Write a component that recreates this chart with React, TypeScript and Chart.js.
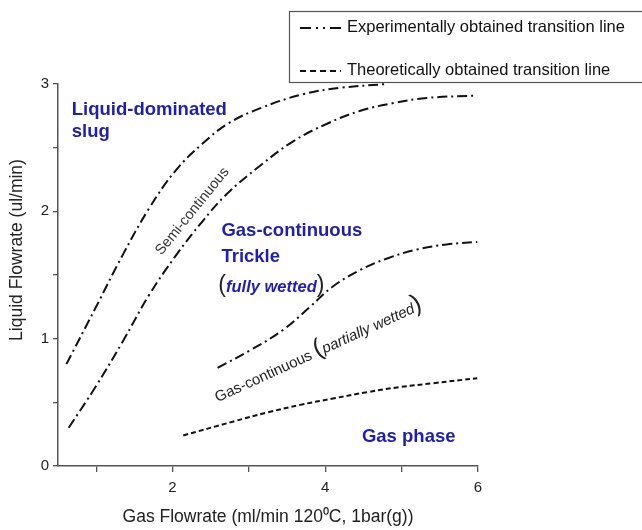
import React, { useEffect, useRef } from 'react';
import { Chart, registerables } from 'chart.js';

Chart.register(...registerables);

// ---- data ----
const expUpperX = [0.61, 0.99, 1.35, 1.69, 2.04, 2.39, 2.73, 3.15, 3.71, 4.2, 4.8];
const expUpperY = [0.8, 1.24, 1.66, 2.02, 2.32, 2.53, 2.69, 2.81, 2.92, 2.97, 3.0];

const expLowerX = [0.64, 0.99, 1.35, 1.69, 2.04, 2.39, 2.7, 3.15, 3.58, 4.03, 4.46, 4.89, 5.33, 5.99];
const expLowerY = [0.3, 0.62, 0.98, 1.34, 1.65, 1.92, 2.13, 2.36, 2.55, 2.69, 2.79, 2.85, 2.89, 2.91];

const expMidX = [2.59, 3.02, 3.45, 3.8, 4.1, 4.46, 4.81, 5.2, 5.59, 5.99];
const expMidY = [0.77, 0.91, 1.07, 1.25, 1.41, 1.54, 1.63, 1.7, 1.74, 1.76];

const theoX = [2.14, 2.8, 3.24, 3.67, 4.1, 4.55, 4.98, 5.41, 5.99];
const theoY = [0.24, 0.35, 0.42, 0.48, 0.53, 0.58, 0.62, 0.65, 0.69];

const xMajorLabels = [2, 4, 6];
const yMajorLabels = [0, 1, 2, 3];

const legendLabels = ['Experimentally obtained transition line', 'Theoretically obtained transition line'];
const xTitle = 'Gas Flowrate (ml/min 120\u2070C, 1bar(g))';
const yTitle = 'Liquid Flowrate (ul/min)';

const FONT = '"Liberation Sans", Arial, sans-serif';
const BLUE = '#1e1eb4';
const DASHDOT = [10, 4, 2, 4];
const DASHED = [5, 3];

const toPts = (xs: number[], ys: number[]) => xs.map((x, i) => ({ x, y: ys[i] }));

type Run = { text: string; font: string; color: string };

function drawRuns(ctx: CanvasRenderingContext2D, x: number, y: number, angleDeg: number, runs: Run[]) {
  ctx.save();
  ctx.translate(x, y);
  ctx.rotate((angleDeg * Math.PI) / 180);
  ctx.textAlign = 'left';
  ctx.textBaseline = 'alphabetic';
  let cx = 0;
  for (const r of runs) {
    ctx.font = r.font;
    ctx.fillStyle = r.color;
    ctx.fillText(r.text, cx, 0);
    cx += ctx.measureText(r.text).width;
  }
  ctx.restore();
}

const overlay = {
  id: 'overlay',
  afterDraw(chart: any) {
    const ctx: CanvasRenderingContext2D = chart.ctx;
    const xs = chart.scales.x;
    const ys = chart.scales.y;
    const px = (v: number) => xs.getPixelForValue(v);
    const py = (v: number) => ys.getPixelForValue(v);
    const bold = `bold 18.5px ${FONT}`;

    // region labels (anchored in data coordinates)
    drawRuns(ctx, px(0.68), py(2.76), 0, [{ text: 'Liquid-dominated', font: bold, color: BLUE }]);
    drawRuns(ctx, px(0.68), py(2.58), 0, [{ text: 'slug', font: bold, color: BLUE }]);

    drawRuns(ctx, px(2.64), py(1.81), 0, [{ text: 'Gas-continuous', font: bold, color: BLUE }]);
    drawRuns(ctx, px(2.64), py(1.6), 0, [{ text: 'Trickle', font: bold, color: BLUE }]);
    drawRuns(ctx, px(2.6), py(1.37), 0, [
      { text: '(', font: `23px ${FONT}`, color: '#222' },
      { text: 'fully wetted', font: `italic bold 16.5px ${FONT}`, color: BLUE },
      { text: ')', font: `23px ${FONT}`, color: '#222' },
    ]);

    drawRuns(ctx, px(4.48), py(0.19), 0, [{ text: 'Gas phase', font: bold, color: BLUE }]);

    // Semi-continuous (rotated)
    ctx.save();
    ctx.translate(px(2.26), py(2.0));
    ctx.rotate((-51 * Math.PI) / 180);
    ctx.font = `14.5px ${FONT}`;
    ctx.fillStyle = '#333';
    ctx.textAlign = 'center';
    ctx.textBaseline = 'middle';
    ctx.fillText('Semi-continuous', 0, 0);
    ctx.restore();

    drawRuns(ctx, px(2.59), py(0.5), -24.5, [
      { text: 'Gas-continuous ', font: `15px ${FONT}`, color: '#222' },
      { text: '(', font: `25px ${FONT}`, color: '#222' },
      { text: 'partially wetted', font: `italic 15px ${FONT}`, color: '#222' },
      { text: ')', font: `25px ${FONT}`, color: '#222' },
    ]);

    // axis titles
    ctx.save();
    ctx.fillStyle = '#222';
    ctx.font = `17.5px ${FONT}`;
    ctx.textAlign = 'center';
    ctx.textBaseline = 'middle';
    ctx.fillText(xTitle, (chart.chartArea.left + chart.chartArea.right) / 2, 517);
    ctx.translate(17, 250);
    ctx.rotate(-Math.PI / 2);
    ctx.fillText(yTitle, 0, 0);
    ctx.restore();

    // legend box
    ctx.save();
    ctx.fillStyle = '#fff';
    ctx.strokeStyle = '#555';
    ctx.lineWidth = 1.2;
    ctx.fillRect(289, 11, 360, 71);
    ctx.strokeRect(289.5, 11.5, 360, 71);
    ctx.strokeStyle = '#111';
    ctx.lineWidth = 2;
    ctx.setLineDash([11, 5, 2, 5, 2, 5, 11]);
    ctx.beginPath();
    ctx.moveTo(300, 28);
    ctx.lineTo(342, 28);
    ctx.stroke();
    ctx.setLineDash([6, 4]);
    ctx.beginPath();
    ctx.moveTo(300, 71);
    ctx.lineTo(341, 71);
    ctx.stroke();
    ctx.setLineDash([]);
    ctx.fillStyle = '#111';
    ctx.font = `16.5px ${FONT}`;
    ctx.textAlign = 'left';
    ctx.textBaseline = 'middle';
    ctx.fillText(legendLabels[0], 347, 27);
    ctx.fillText(legendLabels[1], 347, 70);
    ctx.restore();
  },
};

export default function App() {
  const ref = useRef<HTMLCanvasElement>(null);

  useEffect(() => {
    document.body.style.margin = '0';
    const canvas = ref.current!;
    const lineDs = (label: string, xs: number[], ys: number[], dash: number[]) => ({
      label,
      data: toPts(xs, ys),
      showLine: true,
      borderColor: '#111',
      backgroundColor: '#111',
      borderWidth: 2,
      borderDash: dash,
      pointRadius: 0,
      tension: 0.4,
      fill: false,
      clip: false as any,
    });

    const chart = new Chart(canvas, {
      type: 'scatter',
      data: {
        datasets: [
          lineDs(legendLabels[0], expUpperX, expUpperY, DASHDOT),
          lineDs(legendLabels[0], expLowerX, expLowerY, DASHDOT),
          lineDs(legendLabels[0], expMidX, expMidY, DASHDOT),
          lineDs(legendLabels[1], theoX, theoY, DASHED),
        ],
      },
      options: {
        responsive: false,
        animation: false,
        layout: { padding: { top: 84, right: 164, left: 0, bottom: 0 } },
        plugins: { legend: { display: false }, tooltip: { enabled: false } },
        scales: {
          x: {
            type: 'linear',
            min: 0.5,
            max: 6,
            afterFit: (s: any) => { s.height = 64; },
            afterBuildTicks: (s: any) => {
              s.ticks = [1, 2, 3, 4, 5, 6].map((v) => ({ value: v }));
            },
            ticks: {
              autoSkip: false,
              maxRotation: 0,
              padding: 7,
              color: '#222',
              font: { family: FONT, size: 15 },
              callback: (v: any) => (xMajorLabels.includes(Number(v)) ? String(v) : ''),
            },
            grid: { drawOnChartArea: false, drawTicks: true, tickLength: 6, color: '#555', lineWidth: 1.3 },
            border: { display: true, color: '#555', width: 1.5 },
          },
          y: {
            type: 'linear',
            min: 0,
            max: 3,
            afterFit: (s: any) => { s.width = 58; },
            afterBuildTicks: (s: any) => {
              s.ticks = [0, 0.5, 1, 1.5, 2, 2.5, 3].map((v) => ({ value: v }));
            },
            ticks: {
              autoSkip: false,
              padding: 4,
              color: '#222',
              font: { family: FONT, size: 15 },
              callback: (v: any) => (yMajorLabels.includes(Number(v)) ? String(v) : ''),
            },
            grid: { drawOnChartArea: false, drawTicks: true, tickLength: 5, color: '#555', lineWidth: 1.3 },
            border: { display: true, color: '#555', width: 1.5 },
          },
        },
      },
      plugins: [overlay],
    });
    return () => chart.destroy();
  }, []);

  return (
    <div style={{ width: 642, height: 530 }}>
      <canvas ref={ref} width={642} height={530} style={{ display: 'block' }} />
    </div>
  );
}
